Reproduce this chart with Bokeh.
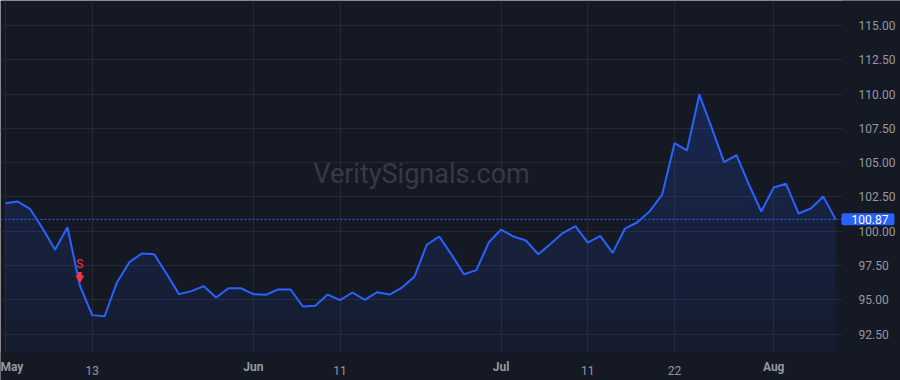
import numpy as np
from bokeh.plotting import figure
from bokeh.models import Range1d, FixedTicker, PrintfTickFormatter
from bokeh.core.properties import value
from bokeh.embed import file_html
from bokeh.resources import INLINE

# ---- data ----
prices = [102.05, 102.17, 101.61, 100.20, 98.65, 100.30, 96.05, 93.89, 93.81, 96.29,
          97.75, 98.38, 98.33, 96.90, 95.42, 95.64, 96.00, 95.18, 95.85, 95.85,
          95.42, 95.37, 95.76, 95.76, 94.52, 94.57, 95.39, 94.98, 95.54, 95.00,
          95.56, 95.39, 95.90, 96.68, 99.02, 99.62, 98.30, 96.87, 97.17, 99.18,
          100.13, 99.62, 99.33, 98.33, 99.09, 99.89, 100.37, 99.18, 99.67, 98.43,
          100.20, 100.66, 101.47, 102.68, 106.42, 105.89, 109.97, 107.54, 105.04, 105.55,
          103.41, 101.44, 103.19, 103.46, 101.30, 101.66, 102.54, 100.87]
day_ticks = [7, 27, 47, 54]
day_labels = ["13", "11", "11", "22"]
month_ticks = [0, 20, 40, 62]
month_labels = ["May", "Jun", "Jul", "Aug"]
y_ticks = [92.5, 95.0, 97.5, 100.0, 102.5, 105.0, 107.5, 110.0, 112.5, 115.0]
signal_index = 6
signal_text = "S"
watermark = "VeritySignals.com"

# ---- style / layout ----
BG = "#151924"
GRID = "#252936"
BLUE = "#2962FF"
LABEL = "#9598a1"
RED = "#f23645"
FONT = "Roboto"

W, H = 900, 380
PLOT_W, PLOT_H = 842, 352          # pane size inside the canvas
PX_X, PX_Y = 12.39, 13.72          # pixels per bar / per price unit
X0 = -0.404
Y_TOP = 116.822
X_PANE_END = X0 + PLOT_W / PX_X
X_END = X0 + W / PX_X
Y_PANE_BOTTOM = Y_TOP - PLOT_H / PX_Y
Y_BOTTOM = Y_TOP - H / PX_Y

x = list(range(len(prices)))
last = prices[-1]

p = figure(width=W, height=H, x_range=Range1d(X0, X_END), y_range=Range1d(Y_BOTTOM, Y_TOP),
           y_axis_location="right", output_backend="svg", toolbar_location=None,
           min_border=0)
p.background_fill_color = BG
p.border_fill_color = BG
p.outline_line_color = None

# grids
p.xgrid.ticker = FixedTicker(ticks=sorted(day_ticks + month_ticks))
p.ygrid.ticker = FixedTicker(ticks=y_ticks)
p.xgrid.grid_line_color = GRID
p.ygrid.grid_line_color = GRID

# axes pinned to the pane edges
p.yaxis.fixed_location = X_PANE_END
p.xaxis.fixed_location = Y_PANE_BOTTOM
p.yaxis.ticker = FixedTicker(ticks=y_ticks)
p.yaxis.formatter = PrintfTickFormatter(format="%.2f")
p.xaxis.ticker = FixedTicker(ticks=day_ticks)
p.xaxis.major_label_overrides = {t: l for t, l in zip(day_ticks, day_labels)}
for ax in (p.xaxis[0], p.yaxis[0]):
    ax.axis_line_color = None
    ax.major_tick_line_color = None
    ax.minor_tick_line_color = None
    ax.major_label_text_color = LABEL
    ax.major_label_text_font = FONT
    ax.major_label_text_font_size = "12px"
p.yaxis.major_label_standoff = 10
p.xaxis.major_label_standoff = 7

# scale areas (cover grid outside the pane)
p.quad(left=[X_PANE_END], right=[X_END], bottom=[Y_BOTTOM], top=[Y_TOP],
       fill_color=BG, line_color=None)
p.quad(left=[X0], right=[X_END], bottom=[Y_BOTTOM], top=[Y_PANE_BOTTOM],
       fill_color=BG, line_color=None)

# watermark
p.text(x=[(X0 + X_PANE_END) / 2], y=[Y_PANE_BOTTOM + (Y_TOP - Y_PANE_BOTTOM) * 0.508],
       text=[watermark], text_align="center", text_baseline="middle",
       text_font=value(FONT), text_font_size="27px", text_color="#363a47")

# area with vertical gradient, drawn as non-overlapping horizontal bands
arr = np.array(prices)
N = 16
A_TOP, A_BOTTOM = 0.20, 0.05
levels = np.linspace(Y_PANE_BOTTOM, arr.max(), N + 1)
for k in range(N):
    lo = np.minimum(arr, levels[k])
    hi = np.minimum(arr, levels[k + 1]) if k < N - 1 else arr
    a = A_BOTTOM + (A_TOP - A_BOTTOM) * (k + 0.5) / N
    p.varea(x=x, y1=lo, y2=hi, fill_color=BLUE, fill_alpha=a)
p.line(x, prices, line_color=BLUE, line_width=2)

# last price line + tag
p.segment(x0=[X0], x1=[X_PANE_END], y0=[last], y1=[last], line_color=BLUE,
          line_dash="2 2", line_width=1)
p.text(x=[X_PANE_END], y=[last], text=[f"{last:.2f}"], x_offset=-1,
       text_align="left", text_baseline="middle", text_color="white",
       text_font=value(FONT), text_font_size="12px",
       background_fill_color=BLUE, border_radius=2,
       padding=dict(left=10, right=6, top=2, bottom=1), level="overlay")

# month labels (bold)
for t, l in zip(month_ticks, month_labels):
    left = t - X0 < 1.0
    p.text(x=[X0 if left else t], y=[Y_PANE_BOTTOM], text=[l], y_offset=7,
           text_align="left" if left else "center", text_baseline="top",
           text_color=LABEL, text_font=value(FONT), text_font_size="12px",
           text_font_style="bold")

# sell signal marker
sv = prices[signal_index]
p.text(x=[signal_index], y=[sv], text=[signal_text], y_offset=-21.5,
       text_align="center", text_baseline="middle", text_font=value(FONT),
       text_font_size="12px", text_color=RED)
p.rect(x=[signal_index], y=[sv + 11.0 / PX_Y], width=4, height=5,
       width_units="screen", height_units="screen", fill_color=RED, line_color=None)
p.scatter(x=[signal_index], y=[sv + 7.5 / PX_Y], marker="inverted_triangle", size=9,
          fill_color=RED, line_color=None)

open("out.html", "w").write(file_html(p, INLINE))
